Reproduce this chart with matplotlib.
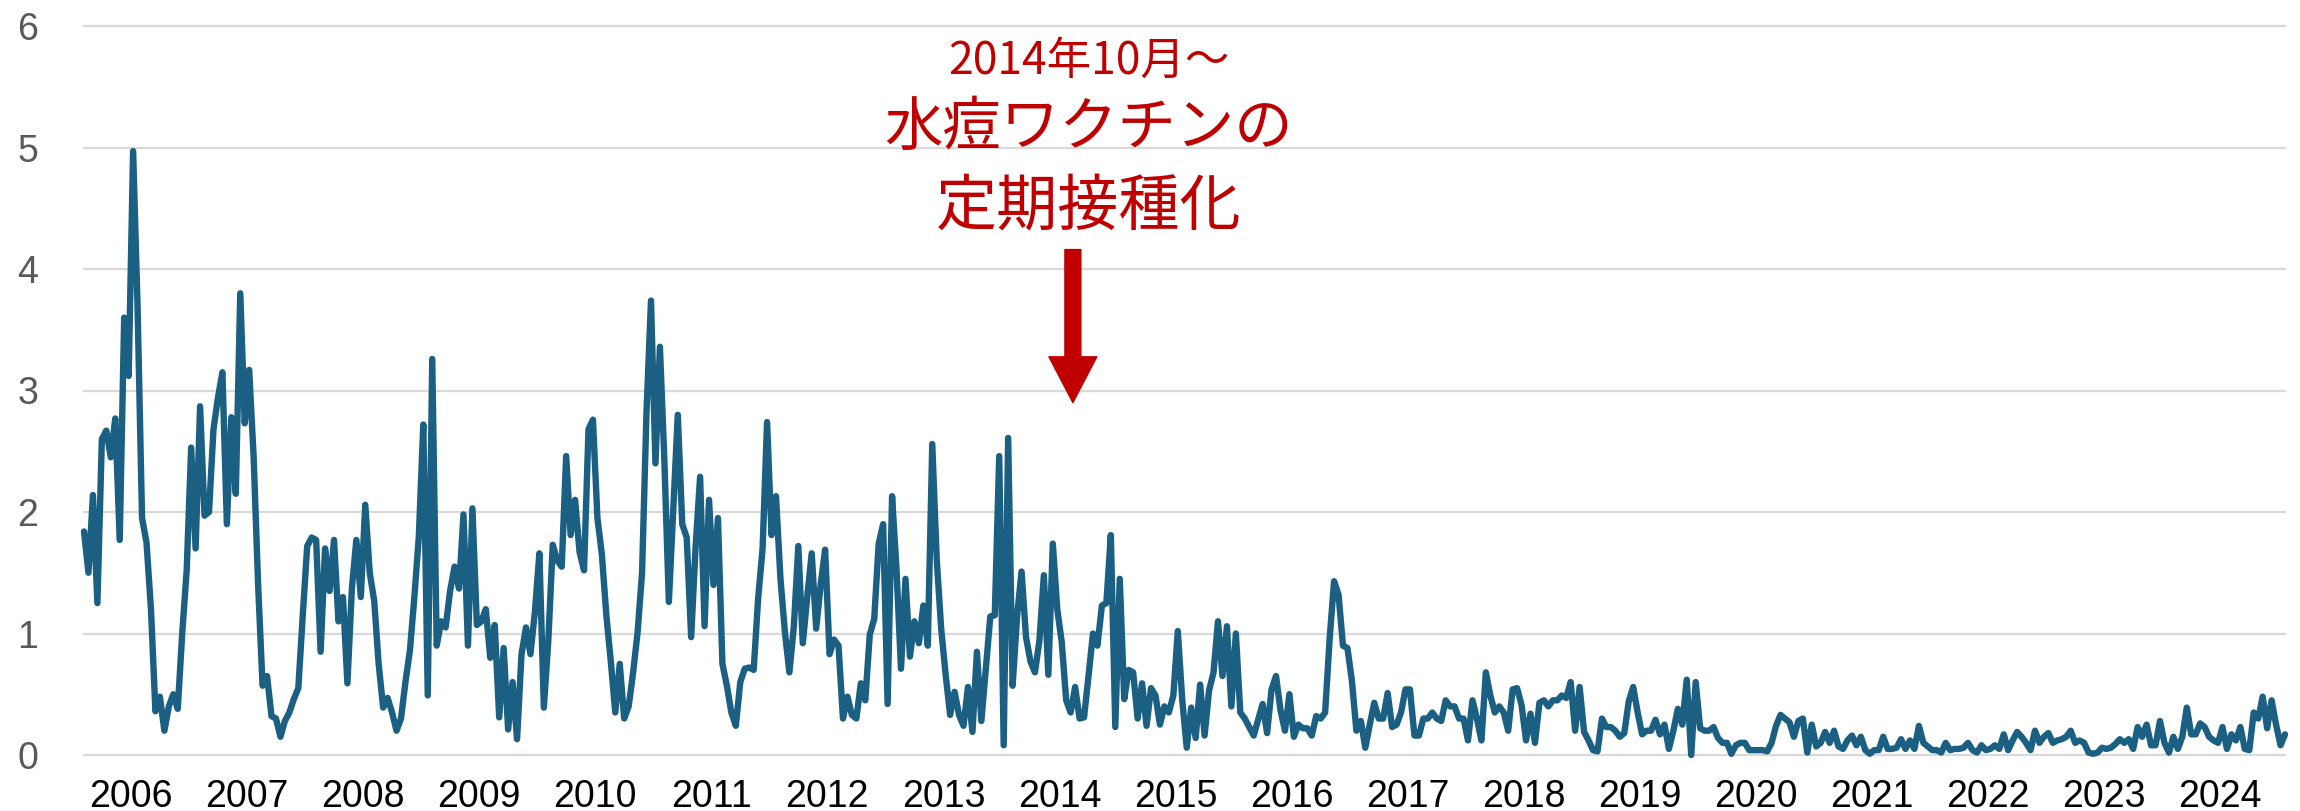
# Casos de varicela por semana (por punto centinela), 2006-2024
# valores leidos cada 2 semanas, 26 por ano

import numpy as np
import matplotlib
matplotlib.use("Agg")
import matplotlib.pyplot as plt

# Datos --------------------------------------------------------------------
y2006 = [1.84, 1.50, 2.14, 1.25, 2.60, 2.67, 2.45, 2.77, 1.77, 3.60, 3.12, 4.97, 3.69,
         1.95, 1.75, 1.20, 0.36, 0.48, 0.20, 0.40, 0.50, 0.38, 1.00, 1.52, 2.53, 1.70]
y2007 = [2.87, 1.97, 2.00, 2.68, 2.94, 3.15, 1.90, 2.78, 2.15, 3.80, 2.73, 3.17, 2.45,
         1.40, 0.57, 0.65, 0.32, 0.30, 0.15, 0.28, 0.35, 0.46, 0.55, 1.15, 1.72, 1.79]
y2008 = [1.77, 0.85, 1.70, 1.35, 1.77, 1.10, 1.30, 0.59, 1.37, 1.77, 1.30, 2.06, 1.50,
         1.27, 0.75, 0.39, 0.47, 0.35, 0.20, 0.30, 0.60, 0.86, 1.30, 1.80, 2.72, 0.49]
y2009 = [3.26, 0.90, 1.10, 1.05, 1.35, 1.55, 1.37, 1.98, 0.90, 2.03, 1.07, 1.10, 1.20,
         0.80, 1.07, 0.31, 0.88, 0.21, 0.60, 0.13, 0.83, 1.05, 0.83, 1.18, 1.66, 0.39]
y2010 = [0.94, 1.73, 1.60, 1.55, 2.46, 1.81, 2.10, 1.67, 1.52, 2.68, 2.76, 1.95, 1.65,
         1.15, 0.77, 0.35, 0.75, 0.30, 0.40, 0.68, 1.01, 1.50, 2.83, 3.74, 2.40, 3.36]
y2011 = [2.42, 1.26, 2.03, 2.80, 1.90, 1.79, 0.97, 1.72, 2.29, 1.06, 2.10, 1.40, 1.95,
         0.75, 0.57, 0.35, 0.24, 0.60, 0.71, 0.72, 0.70, 1.29, 1.70, 2.74, 1.81, 2.13]
y2012 = [1.45, 1.01, 0.68, 1.06, 1.72, 0.92, 1.30, 1.66, 1.04, 1.40, 1.69, 0.83, 0.95,
         0.90, 0.30, 0.48, 0.33, 0.30, 0.59, 0.45, 0.99, 1.12, 1.74, 1.90, 0.42, 2.13]
y2013 = [1.52, 0.71, 1.45, 0.81, 1.10, 0.92, 1.23, 0.90, 2.56, 1.61, 1.04, 0.66, 0.33,
         0.52, 0.33, 0.24, 0.56, 0.19, 0.85, 0.28, 0.71, 1.14, 1.15, 2.46, 0.08, 2.61]
y2014 = [0.57, 1.14, 1.51, 0.97, 0.77, 0.68, 0.94, 1.48, 0.66, 1.74, 1.20, 0.93, 0.45,
         0.35, 0.56, 0.30, 0.31, 0.65, 1.00, 0.90, 1.23, 1.25, 1.81, 0.23, 1.45, 0.46]
y2015 = [0.70, 0.68, 0.30, 0.59, 0.24, 0.55, 0.49, 0.25, 0.40, 0.35, 0.49, 1.02, 0.45,
         0.06, 0.39, 0.14, 0.58, 0.16, 0.53, 0.68, 1.10, 0.65, 1.06, 0.40, 1.00, 0.35]
y2016 = [0.30, 0.23, 0.16, 0.29, 0.42, 0.18, 0.54, 0.65, 0.37, 0.20, 0.50, 0.15, 0.25,
         0.22, 0.22, 0.16, 0.32, 0.30, 0.35, 0.95, 1.43, 1.32, 0.90, 0.88, 0.61, 0.20]
y2017 = [0.28, 0.06, 0.25, 0.43, 0.30, 0.30, 0.51, 0.23, 0.25, 0.35, 0.54, 0.54, 0.16,
         0.16, 0.30, 0.30, 0.35, 0.30, 0.28, 0.45, 0.40, 0.40, 0.30, 0.30, 0.12, 0.45]
y2018 = [0.30, 0.12, 0.68, 0.49, 0.35, 0.40, 0.35, 0.20, 0.54, 0.55, 0.41, 0.12, 0.34,
         0.10, 0.43, 0.45, 0.40, 0.45, 0.45, 0.49, 0.47, 0.60, 0.20, 0.56, 0.19, 0.12]
y2019 = [0.04, 0.03, 0.30, 0.23, 0.23, 0.20, 0.15, 0.18, 0.44, 0.56, 0.35, 0.17, 0.20,
         0.20, 0.29, 0.17, 0.25, 0.05, 0.20, 0.38, 0.25, 0.62, 0.00, 0.60, 0.22, 0.20]
y2020 = [0.20, 0.23, 0.14, 0.10, 0.10, 0.01, 0.08, 0.10, 0.10, 0.04, 0.04, 0.04, 0.04,
         0.03, 0.10, 0.24, 0.33, 0.30, 0.27, 0.15, 0.28, 0.30, 0.02, 0.25, 0.07, 0.10]
y2021 = [0.19, 0.10, 0.20, 0.07, 0.05, 0.12, 0.16, 0.08, 0.15, 0.04, 0.01, 0.04, 0.04,
         0.15, 0.05, 0.05, 0.06, 0.13, 0.05, 0.12, 0.05, 0.24, 0.10, 0.07, 0.04, 0.04]
y2022 = [0.02, 0.10, 0.04, 0.05, 0.05, 0.06, 0.10, 0.04, 0.02, 0.08, 0.04, 0.05, 0.08,
         0.05, 0.17, 0.04, 0.12, 0.19, 0.15, 0.10, 0.04, 0.20, 0.10, 0.15, 0.18, 0.10]
y2023 = [0.12, 0.13, 0.15, 0.20, 0.10, 0.12, 0.10, 0.02, 0.01, 0.02, 0.06, 0.05, 0.06,
         0.09, 0.13, 0.10, 0.13, 0.05, 0.23, 0.15, 0.25, 0.08, 0.08, 0.28, 0.10, 0.02]
y2024 = [0.15, 0.05, 0.15, 0.39, 0.17, 0.17, 0.26, 0.23, 0.15, 0.12, 0.10, 0.23, 0.05,
         0.17, 0.12, 0.23, 0.05, 0.04, 0.35, 0.30, 0.48, 0.22, 0.45, 0.25, 0.08, 0.17]

anios = list(range(2006, 2025))
series = [y2006, y2007, y2008, y2009, y2010, y2011, y2012, y2013, y2014, y2015,
          y2016, y2017, y2018, y2019, y2020, y2021, y2022, y2023, y2024]

# semana desde el inicio de 2006 (52 semanas por ano, un valor cada 2)
semanas = np.concatenate([52 * k + 2 * np.arange(len(s)) for k, s in enumerate(series)])
valores = np.concatenate(series)

# Grafico ------------------------------------------------------------------
rojo = "#C00000"
azul = "#1B6083"

fig = plt.figure(figsize=(23, 8.11), dpi=100)
ax = fig.add_axes([84 / 2300, 56 / 811, 2201 / 2300, 729 / 811])

ax.plot(semanas, valores, color=azul, lw=4.6, solid_joinstyle="round",
        solid_capstyle="round", clip_on=False, zorder=3)

ax.set_xlim(0, semanas[-1])
ax.set_ylim(0, 6)
ax.set_yticks(range(7))
ax.set_xticks([21 + 52 * k for k in range(len(anios))])
ax.set_xticklabels(anios, family="Liberation Sans")
for lbl in ax.get_yticklabels():
    lbl.set_family("Liberation Sans")

ax.yaxis.grid(True, color="#D9D9D9", lw=1.6)
for gl in ax.get_ygridlines():
    gl.set_clip_on(False)
ax.set_axisbelow(True)
for s in ax.spines.values():
    s.set_visible(False)
ax.tick_params(axis="x", length=0, pad=17, labelsize=27, labelcolor="black")
ax.tick_params(axis="y", length=0, pad=33, labelsize=27, labelcolor="#595959")

# Anotacion
jp = ["Noto Sans CJK JP", "DejaVu Sans"]
ax.text(450, 5.71, "2014年10月～", ha="center", va="center", fontsize=32, color=rojo, family=jp)
ax.text(450, 5.16, "水痘ワクチンの", ha="center", va="center", fontsize=42, color=rojo, family=jp)
ax.text(450, 4.51, "定期接種化", ha="center", va="center", fontsize=44, color=rojo, family=jp)
ax.annotate("", xy=(443, 2.9), xytext=(443, 4.16),
            arrowprops=dict(width=11.5, headwidth=34.5, headlength=33, color=rojo, shrink=0))

fig.savefig("out.png", dpi=100)
